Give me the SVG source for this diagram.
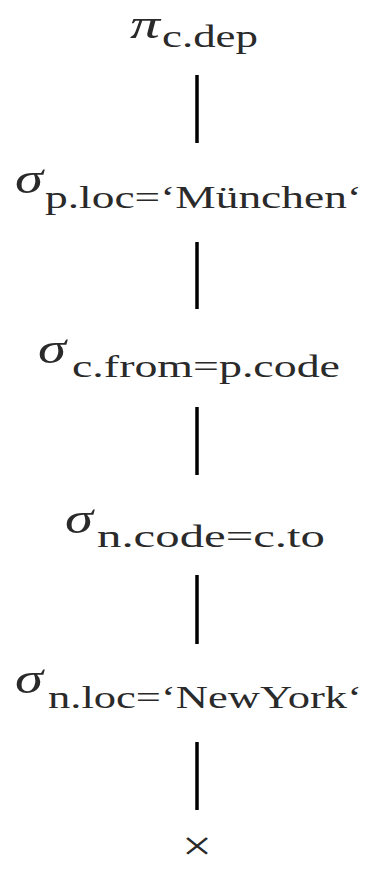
<svg xmlns="http://www.w3.org/2000/svg" width="378" height="869" viewBox="0 0 378 869">
<style>
.g{font-family:"Liberation Serif","DejaVu Serif",serif;font-style:italic;fill:#2a2a2a;font-size:44px}
.s{font-family:"Liberation Serif","DejaVu Serif",serif;fill:#2a2a2a;font-size:31px}
.x{font-family:"Liberation Serif","DejaVu Serif",serif;fill:#2a2a2a;font-size:42px}
.e{stroke:#000;stroke-width:3.5;fill:none}
</style>
<rect width="378" height="869" fill="#fff"/>
<g id="connectors">
<line class="e" x1="197" y1="75" x2="197" y2="143"/>
<line class="e" x1="197" y1="242" x2="197" y2="309"/>
<line class="e" x1="197" y1="407" x2="197" y2="475"/>
<line class="e" x1="197" y1="575" x2="197" y2="644"/>
<line class="e" x1="197" y1="742" x2="197" y2="810"/>
</g>
<g id="n1">
<text class="g" x="130" y="38" textLength="30" lengthAdjust="spacingAndGlyphs" style="font-size:42px">π</text>
<text class="s" x="162" y="47" textLength="96" lengthAdjust="spacingAndGlyphs">c.dep</text>
</g>
<g id="n2">
<text class="g" x="15" y="193" textLength="28" lengthAdjust="spacingAndGlyphs">σ</text>
<text class="s" x="45" y="208" textLength="317" lengthAdjust="spacingAndGlyphs">p.loc=‘München‘</text>
</g>
<g id="n3">
<text class="g" x="38" y="363" textLength="28" lengthAdjust="spacingAndGlyphs">σ</text>
<text class="s" x="72" y="377" textLength="268" lengthAdjust="spacingAndGlyphs">c.from=p.code</text>
</g>
<g id="n4">
<text class="g" x="65" y="533" textLength="28" lengthAdjust="spacingAndGlyphs">σ</text>
<text class="s" x="97" y="547" textLength="228" lengthAdjust="spacingAndGlyphs">n.code=c.to</text>
</g>
<g id="n5">
<text class="g" x="15" y="693" textLength="28" lengthAdjust="spacingAndGlyphs">σ</text>
<text class="s" x="48" y="708" textLength="314" lengthAdjust="spacingAndGlyphs">n.loc=‘NewYork‘</text>
</g>
<g id="n6">
<text class="x" x="182" y="860" textLength="30" lengthAdjust="spacingAndGlyphs">×</text>
</g>
</svg>
